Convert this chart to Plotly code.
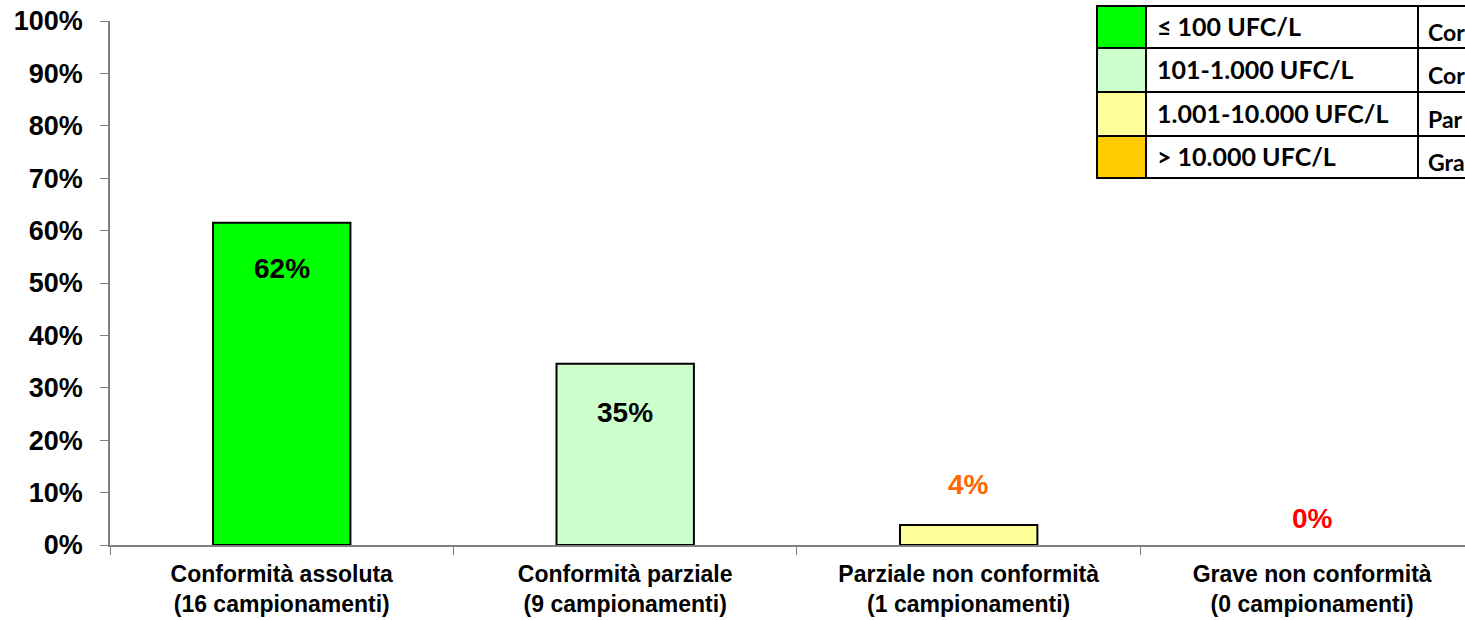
import plotly.graph_objects as go

# ---- data ----
categories = [
    "Conformità assoluta<br>(16 campionamenti)",
    "Conformità parziale<br>(9 campionamenti)",
    "Parziale non conformità<br>(1 campionamenti)",
    "Grave non conformità<br>(0 campionamenti)",
]
values = [0.615, 0.346, 0.038, 0.0]
value_labels = ["62%", "35%", "4%", "0%"]
bar_colors = ["#00FF00", "#CCFFCC", "#FFFF99", "#FFCC00"]
label_colors = ["#000000", "#000000", "#FF6600", "#FF0000"]
label_shift = [-46, -49, 41, 27]
bar_line_widths = [2, 2, 2, 0]

legend_ranges = ["≤ 100 UFC/L", "101-1.000 UFC/L", "1.001-10.000 UFC/L", "> 10.000 UFC/L"]
legend_classes = ["Cor", "Cor", "Par", "Gra"]  # visible part of the class column
legend_colors = ["#00FF00", "#CCFFCC", "#FFFF99", "#FFCC00"]

# ---- layout geometry ----
W, H = 1465, 620
L, R, T, B = 110, 0, 21, 75
PW, PH = W - L - R, H - T - B


def xp(px):  # screen px -> paper
    return (px - L) / PW


def yp(py):
    return (H - B - py) / PH


fig = go.Figure()
fig.add_trace(go.Bar(
    x=categories, y=values,
    marker=dict(color=bar_colors, line=dict(color="#000000", width=bar_line_widths)),
    width=0.4, showlegend=False, hoverinfo="skip",
))

annotations = []
for c, v, t, col, s in zip(categories, values, value_labels, label_colors, label_shift):
    annotations.append(dict(
        x=c, y=v, xref="x", yref="y", text=t, showarrow=False,
        yshift=s, yanchor="middle",
        font=dict(family="Liberation Sans, Arial", size=28, color=col, weight="bold"),
    ))

shapes = []
row_tops = [6, 48, 92, 136, 178]
x_left, x_col1, x_col2, x_right = 1097, 1146, 1418, 1520
for i in range(4):
    y0, y1 = row_tops[i], row_tops[i + 1]
    for xa, xb, fc in [(x_left, x_col1, legend_colors[i]),
                       (x_col1, x_col2, "#FFFFFF"),
                       (x_col2, x_right, "#FFFFFF")]:
        shapes.append(dict(type="rect", xref="paper", yref="paper",
                           x0=xp(xa), x1=xp(xb), y0=yp(y1), y1=yp(y0),
                           fillcolor=fc, line=dict(color="#000000", width=2)))
    yc = (y0 + y1) / 2
    annotations.append(dict(
        x=xp(1155), y=yp(yc - 1), xref="paper", yref="paper", text=legend_ranges[i],
        showarrow=False, xanchor="left", yanchor="middle",
        font=dict(family="Lato, Open Sans", size=25, color="#000000", weight="bold"),
    ))
    annotations.append(dict(
        x=xp(1426), y=yp(yc + 5), xref="paper", yref="paper", text=legend_classes[i],
        showarrow=False, xanchor="left", yanchor="middle",
        font=dict(family="Lato, Open Sans", size=23, color="#000000", weight="bold"),
    ))

fig.update_layout(
    width=W, height=H,
    margin=dict(l=L, r=R, t=T, b=B, pad=0),
    paper_bgcolor="#FFFFFF", plot_bgcolor="#FFFFFF",
    annotations=annotations, shapes=shapes,
    font=dict(family="Liberation Sans, Arial", color="#000000"),
)
fig.update_xaxes(
    type="category", range=[-0.5, 3.445],
    showline=True, linecolor="#808080", linewidth=1.5,
    ticks="outside", tickson="boundaries", ticklen=8, tickcolor="#808080", tickwidth=1,
    showgrid=False, zeroline=False,
    tickfont=dict(family="Liberation Sans, Arial", size=23, color="#000000", weight="bold"),
    ticklabelstandoff=8,
)
fig.update_yaxes(
    range=[0, 1], tickvals=[i / 10 for i in range(11)], tickformat=".0%",
    showline=True, linecolor="#808080", linewidth=1.5,
    ticks="outside", ticklen=8, tickcolor="#808080", tickwidth=1,
    showgrid=False, zeroline=False, ticklabeloverflow="allow",
    tickfont=dict(family="Liberation Sans, Arial", size=27, color="#000000", weight="bold"),
    ticklabelstandoff=12,
)

fig.write_html(
    "out.html",
    config={"displayModeBar": False},
    post_script="document.body.style.margin='0';document.body.style.overflow='hidden';",
)
